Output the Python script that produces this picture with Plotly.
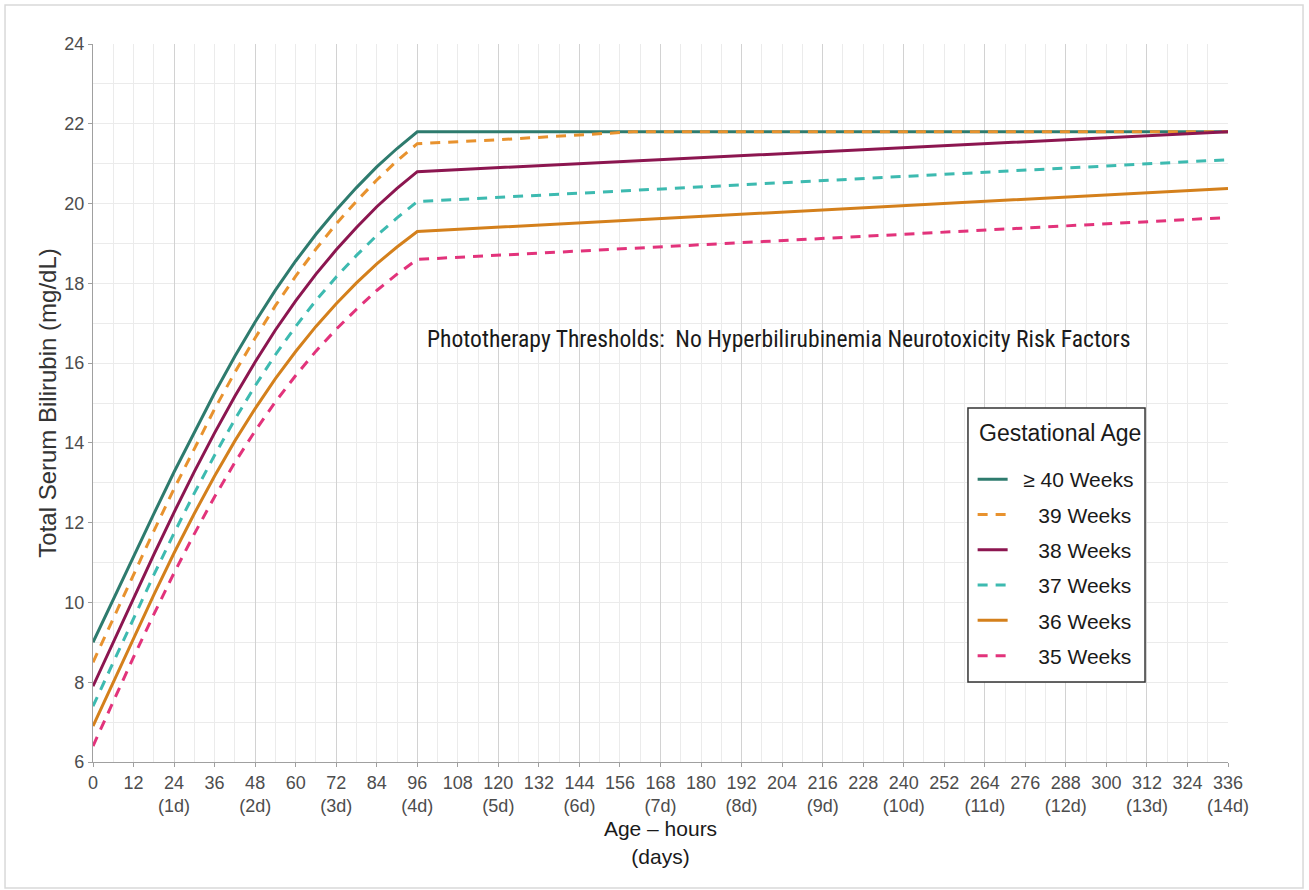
import plotly.graph_objects as go

# ---------------- data ----------------
rise_hours = [0, 6, 12, 18, 24, 30, 36, 42, 48, 54, 60, 66, 72, 78, 84, 90, 96]

ga40_hours = rise_hours + [336]
ga40_tsb = [9.0, 10.08, 11.16, 12.22, 13.27, 14.28, 15.25, 16.17, 17.03, 17.83, 18.56, 19.23, 19.84, 20.4, 20.92,
            21.38, 21.8, 21.8]

ga39_hours = rise_hours + [120, 144, 160, 336]
ga39_tsb = [8.5, 9.61, 10.71, 11.79, 12.85, 13.87, 14.85, 15.77, 16.63, 17.44, 18.18, 18.86, 19.49, 20.06, 20.59,
            21.07, 21.5, 21.6, 21.72, 21.8, 21.8]

ga38_hours = rise_hours + [336]
ga38_tsb = [7.9, 9.01, 10.12, 11.2, 12.26, 13.28, 14.25, 15.17, 16.03, 16.83, 17.56, 18.23, 18.84, 19.4, 19.92,
            20.38, 20.8, 21.8]

ga37_hours = rise_hours + [336]
ga37_tsb = [7.4, 8.51, 9.62, 10.69, 11.74, 12.74, 13.69, 14.59, 15.43, 16.21, 16.92, 17.57, 18.16, 18.7, 19.2,
            19.64, 20.05, 21.1]

ga36_hours = rise_hours + [336]
ga36_tsb = [6.9, 8.01, 9.12, 10.19, 11.24, 12.23, 13.17, 14.05, 14.86, 15.61, 16.29, 16.92, 17.49, 18.01, 18.49,
            18.91, 19.3, 20.38]

ga35_hours = rise_hours + [336]
ga35_tsb = [6.4, 7.52, 8.63, 9.7, 10.74, 11.72, 12.65, 13.51, 14.3, 15.03, 15.69, 16.3, 16.85, 17.35, 17.82,
            18.23, 18.6, 19.65]

series_names = ["\u2002\u2265 40 Weeks", "\u2002\u2007\u200639 Weeks", "\u2002\u2007\u200638 Weeks",
                "\u2002\u2007\u200637 Weeks", "\u2002\u2007\u200636 Weeks", "\u2002\u2007\u200635 Weeks"]
legend_title = "Gestational Age"

x_tickvals = [0, 12, 24, 36, 48, 60, 72, 84, 96, 108, 120, 132, 144, 156, 168, 180, 192, 204, 216, 228,
              240, 252, 264, 276, 288, 300, 312, 324, 336]
x_ticktext = ["0", "12", "24<br>(1d)", "36", "48<br>(2d)", "60", "72<br>(3d)", "84", "96<br>(4d)", "108",
              "120<br>(5d)", "132", "144<br>(6d)", "156", "168<br>(7d)", "180", "192<br>(8d)", "204",
              "216<br>(9d)", "228", "240<br>(10d)", "252", "264<br>(11d)", "276", "288<br>(12d)", "300",
              "312<br>(13d)", "324", "336<br>(14d)"]
day_gridvals = [0, 24, 48, 72, 96, 120, 144, 168, 192, 216, 240, 264, 288, 312, 336]
y_tickvals = [6, 8, 10, 12, 14, 16, 18, 20, 22, 24]

# ---------------- styles ----------------
styles = [
    dict(color="#2E7B6E", dash="solid"),
    dict(color="#E8922E", dash="10px,8px"),
    dict(color="#8C1650", dash="solid"),
    dict(color="#3DBAB0", dash="10px,8px"),
    dict(color="#D4801C", dash="solid"),
    dict(color="#E2337B", dash="10px,8px"),
]

all_hours = [ga40_hours, ga39_hours, ga38_hours, ga37_hours, ga36_hours, ga35_hours]
all_tsb = [ga40_tsb, ga39_tsb, ga38_tsb, ga37_tsb, ga36_tsb, ga35_tsb]

fig = go.Figure()
for i, (xs, ys, name, st) in enumerate(zip(all_hours, all_tsb, series_names, styles)):
    fig.add_trace(go.Scatter(
        x=xs, y=ys, mode="lines", name=name, legendgroup=f"g{i}",
        line=dict(color=st["color"], dash=st["dash"], width=3),
        hoverinfo="skip",
    ))

# invisible helper trace so the overlay axis (day grid) is drawn
fig.add_trace(go.Scatter(x=[0, 336], y=[None, None], xaxis="x2", mode="lines",
                         showlegend=False, hoverinfo="skip"))

tick_font = dict(family="Liberation Sans, Arial, sans-serif", size=18, color="#4d4d4d")
light = "#ebebeb"

fig.update_layout(
    width=1309, height=890,
    margin=dict(l=93, r=81, t=44, b=128),
    paper_bgcolor="white", plot_bgcolor="white",
    font=dict(family="Liberation Sans, Arial, sans-serif"),
    showlegend=True,
    legend=dict(
        x=0.775, y=0.422, xanchor="left", yanchor="top",
        bgcolor="rgba(0,0,0,0)", borderwidth=0,
        font=dict(size=21, color="#1a1a1a", family="Liberation Sans, Arial, sans-serif"),
        tracegroupgap=5, traceorder="grouped",
    ),
    xaxis=dict(
        range=[0, 336], tickmode="array", tickvals=x_tickvals, ticktext=x_ticktext,
        tickfont=tick_font, showgrid=True, gridcolor=light, gridwidth=1,
        minor=dict(dtick=6, tick0=0, showgrid=True, gridcolor=light, gridwidth=1),
        showline=True, linecolor="#a0a0a0", linewidth=1.2,
        ticks="outside", ticklen=4, tickcolor="#a0a0a0", zeroline=False,
        title=dict(text="Age \u2013 hours<br>(days)",
                   font=dict(size=21, color="#1a1a1a"), standoff=6),
    ),
    xaxis2=dict(
        overlaying="x", range=[0, 336], tickmode="array", tickvals=day_gridvals,
        showticklabels=False, showgrid=True, gridcolor="#d2d2d2", gridwidth=1.3,
        zeroline=False, showline=False, ticks="", side="bottom", matches="x",
    ),
    yaxis=dict(
        range=[6, 24], tickmode="array", tickvals=y_tickvals, tickfont=tick_font,
        showgrid=True, gridcolor=light, gridwidth=1,
        minor=dict(dtick=1, tick0=0, showgrid=True, gridcolor=light, gridwidth=1),
        showline=True, linecolor="#a0a0a0", linewidth=1.2,
        ticks="outside", ticklen=4, tickcolor="#a0a0a0", zeroline=False,
        title=dict(text="Total Serum Bilirubin (mg/dL)",
                   font=dict(size=24, color="#333333"), standoff=0),
    ),
    annotations=[
        dict(x=203, y=16.6, xref="x", yref="y", showarrow=False,
             text="Phototherapy Thresholds:\u2002No Hyperbilirubinemia Neurotoxicity Risk Factors",
             font=dict(family="Liberation Sans Narrow, Arial Narrow, Roboto Condensed, sans-serif",
                       size=23.6, color="#1a1a1a")),
        dict(x=0.852, y=0.4582, xref="paper", yref="paper", showarrow=False,
             xanchor="center", yanchor="middle", text=legend_title,
             font=dict(size=23, color="#1a1a1a")),
    ],
    shapes=[
        dict(type="rect", xref="paper", yref="paper",
             x0=-0.0775, x1=1.0661, y0=-0.1755, y1=1.0543,
             line=dict(color="#d9d9d9", width=1.5), layer="below"),
        dict(type="rect", xref="paper", yref="paper",
             x0=0.7709, x1=0.9269, y0=0.1114, y1=0.4930,
             fillcolor="white", line=dict(color="#333333", width=1.5), layer="above"),
    ],
)

fig.write_html("out.html")
